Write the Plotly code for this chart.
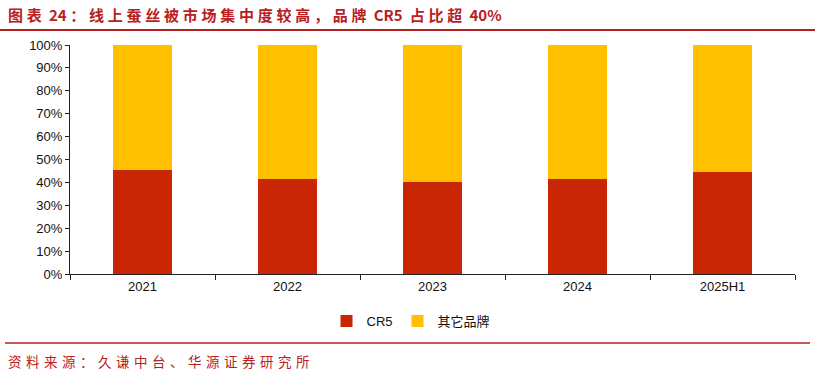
import plotly.graph_objects as go

categories = ["2021", "2022", "2023", "2024", "2025H1"]
cr5 = [45.4, 41.3, 40.2, 41.3, 44.4]
others = [100 - v for v in cr5]
series_names = ["CR5", "其它品牌"]
series_colors = ["#C82605", "#FFC000"]
tick_vals = [0, 10, 20, 30, 40, 50, 60, 70, 80, 90, 100]
tick_text = [f"{v}%" for v in tick_vals]
title_text = "图表 24：线上蚕丝被市场集中度较高，品牌 CR5 占比超 40%"
source_text = "资料来源：久谦中台、华源证券研究所"

W, H = 815, 376
L, R, T, B = 70, 20, 45, 102
pw, ph = W - L - R, H - T - B


def px(x):
    return (x - L) / pw


def py(y):
    return (H - B - y) / ph


def spaced(s, sp):
    out = []
    for i, ch in enumerate(s):
        out.append(ch)
        if i < len(s) - 1 and (ord(ch) > 0x2E80 or ord(s[i + 1]) > 0x2E80):
            out.append(sp)
    return "".join(out)


fig = go.Figure()
for vals, name, color in zip([cr5, others], series_names, series_colors):
    fig.add_trace(go.Bar(x=categories, y=vals, name=name, marker_color=color,
                         marker_line_width=0, width=0.41))

fig.update_layout(
    width=W, height=H, barmode="stack",
    margin=dict(l=L, r=R, t=T, b=B),
    plot_bgcolor="white", paper_bgcolor="white",
    font=dict(family="Liberation Sans, Arial, sans-serif", size=13, color="#111"),
    showlegend=True,
    legend=dict(orientation="h", x=px(411), xanchor="center", y=py(321), yanchor="middle",
                font=dict(size=13, family="Liberation Sans, Noto Sans CJK SC, sans-serif"),
                itemwidth=30, traceorder="normal"),
)
fig.update_xaxes(showline=True, linecolor="#222", linewidth=1, ticks="outside", tickson="boundaries",
                 ticklen=5, tickcolor="#222", showgrid=False, tickfont=dict(size=13))
fig.update_yaxes(range=[0, 100], tickvals=tick_vals, ticktext=tick_text, showline=True, linecolor="#222",
                 linewidth=1, ticks="outside", ticklen=4, tickcolor="#222", showgrid=False,
                 zeroline=False, tickfont=dict(size=13))

fig.add_annotation(text="<b>" + spaced(title_text, "\u2005") + "</b>",
                   xref="paper", yref="paper", x=px(6), y=py(15), xanchor="left", yanchor="middle",
                   showarrow=False, font=dict(size=15, color="#B8201F", family="Noto Sans CJK SC"))
fig.add_shape(type="line", xref="paper", yref="paper", x0=px(0), x1=px(815), y0=py(30), y1=py(30),
              line=dict(color="#B8201F", width=2))
fig.add_shape(type="line", xref="paper", yref="paper", x0=px(5), x1=px(810), y0=py(343), y1=py(343),
              line=dict(color="#B8201F", width=1.5))
fig.add_annotation(text=spaced(source_text, "\u2004"),
                   xref="paper", yref="paper", x=px(6), y=py(361), xanchor="left", yanchor="middle",
                   showarrow=False, font=dict(size=13.5, color="#B8201F", family="Noto Sans CJK SC"))

fig.write_html("out.html", config={"displayModeBar": False},
               post_script="document.body.style.margin='0';document.body.style.padding='0';")
